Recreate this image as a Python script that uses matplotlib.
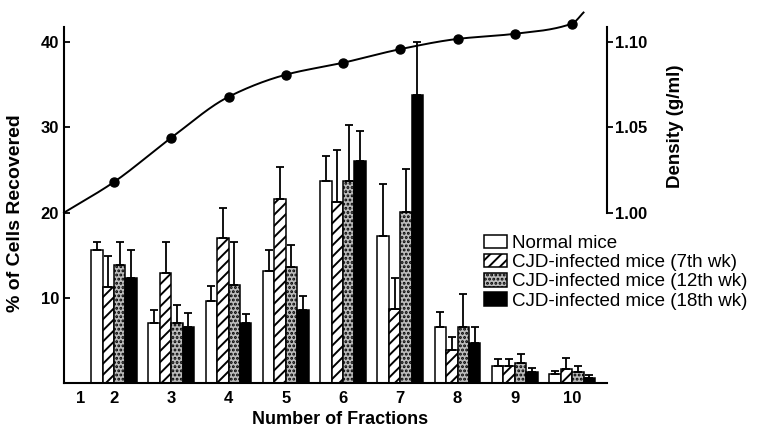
import numpy as np
import matplotlib
matplotlib.use("Agg")
import matplotlib.pyplot as plt
from matplotlib.patches import Patch

plt.rcParams['font.family'] = ['Liberation Sans', 'DejaVu Sans']
plt.rcParams['hatch.linewidth'] = 1.4

# ---------------- data ----------------
fractions = [2, 3, 4, 5, 6, 7, 8, 9, 10]
tick_labels = ['1', '2', '3', '4', '5', '6', '7', '8', '9', '10']
series_names = ['Normal mice',
                'CJD-infected mice (7th wk)',
                'CJD-infected mice (12th wk)',
                'CJD-infected mice (18th wk)']

normal_mean = [15.6, 7.1, 9.6, 13.2, 23.7, 17.3, 6.6, 2.0, 1.0]
normal_sd = [0.9, 1.5, 1.8, 2.4, 3.0, 6.1, 1.7, 0.8, 0.4]
wk7_mean = [11.3, 12.9, 17.0, 21.6, 21.3, 8.7, 3.9, 2.0, 1.6]
wk7_sd = [3.6, 3.6, 3.5, 3.8, 6.0, 3.6, 1.5, 0.8, 1.3]
wk12_mean = [13.9, 7.1, 11.5, 13.6, 23.7, 20.1, 6.6, 2.3, 1.3]
wk12_sd = [2.6, 2.1, 5.0, 2.6, 6.6, 5.0, 3.9, 1.1, 0.7]
wk18_mean = [12.3, 6.6, 7.0, 8.6, 26.1, 33.8, 4.7, 1.3, 0.6]
wk18_sd = [3.3, 1.6, 1.1, 1.6, 3.5, 6.2, 1.9, 0.5, 0.3]

density_fraction = [2, 3, 4, 5, 6, 7, 8, 9, 10]
density = [1.018, 1.044, 1.068, 1.081, 1.088, 1.096, 1.102, 1.105, 1.111]
curve_start_density = 1.000   # density where the curve meets the left axis
curve_end = (10.2, 1.1175)    # where the drawn curve ends

# ---------------- layout ----------------
tick_positions = [1.41, 2, 3, 4, 5, 6, 7, 8, 9, 10]
xlim = (1.127, 10.61)
ylim = (0, 41.8)


def to_density(p):
    return 1.0 + (p - 20.0) / 200.0


offsets = [-0.3, -0.1, 0.1, 0.3]
width = 0.2


def pchip(xk, yk, xs):
    xk = np.asarray(xk, float); yk = np.asarray(yk, float)
    h = np.diff(xk); delta = np.diff(yk) / h
    n = len(xk)
    m = np.zeros(n)
    for i in range(1, n - 1):
        if delta[i - 1] * delta[i] > 0:
            w1 = 2 * h[i] + h[i - 1]
            w2 = h[i] + 2 * h[i - 1]
            m[i] = (w1 + w2) / (w1 / delta[i - 1] + w2 / delta[i])
    m[0] = delta[0]
    m[-1] = delta[-1]
    idx = np.clip(np.searchsorted(xk, xs) - 1, 0, n - 2)
    t = (xs - xk[idx]) / h[idx]
    h00 = 2 * t ** 3 - 3 * t ** 2 + 1
    h10 = t ** 3 - 2 * t ** 2 + t
    h01 = -2 * t ** 3 + 3 * t ** 2
    h11 = t ** 3 - t ** 2
    return (h00 * yk[idx] + h10 * h[idx] * m[idx] + h01 * yk[idx + 1]
            + h11 * h[idx] * m[idx + 1])


fig = plt.figure(figsize=(7.74, 4.32), dpi=100)
ax = fig.add_axes([64 / 774, 49 / 432, 543 / 774, 356 / 432])
ax.set_xlim(*xlim)
ax.set_ylim(*ylim)

x = np.array(fractions, float)
means = [normal_mean, wk7_mean, wk12_mean, wk18_mean]
sds = [normal_sd, wk7_sd, wk12_sd, wk18_sd]
styles = [dict(facecolor='white', hatch=None),
          dict(facecolor='white', hatch='///'),
          dict(facecolor='#bcbcbc', hatch='....'),
          dict(facecolor='black', hatch=None)]

for k in range(4):
    xs = x + offsets[k]
    ax.bar(xs, means[k], width=width, edgecolor='black', linewidth=1.1,
           zorder=2, **styles[k])
    ax.errorbar(xs, means[k], yerr=[np.zeros(len(xs)), sds[k]], fmt='none',
                ecolor='black', elinewidth=1.3, capsize=2.9, capthick=1.3,
                zorder=3)

ax.set_xticks(tick_positions)
ax.set_xticklabels(tick_labels, fontweight='bold')
ax.set_yticks([10, 20, 30, 40])
ax.set_yticklabels(['10', '20', '30', '40'], fontweight='bold')
ax.tick_params(axis='y', direction='in', length=4, width=1.3, pad=3.5,
               labelsize=12)
ax.tick_params(axis='x', length=0, pad=6, labelsize=12)
for s in ['top', 'right']:
    ax.spines[s].set_visible(False)
for s in ['left', 'bottom']:
    ax.spines[s].set_linewidth(1.5)

ax.set_xlabel('Number of Fractions', fontsize=13, fontweight='bold')
ax.xaxis.set_label_coords(0.508, -0.079)
ax.set_ylabel('% of Cells Recovered', fontsize=14, fontweight='bold')
ax.yaxis.set_label_coords(-0.074, 0.478)

# density axis
ax2 = ax.twinx()
ax2.set_ylim(to_density(ylim[0]), to_density(ylim[1]))
ax2.set_yticks([1.00, 1.05, 1.10])
ax2.set_yticklabels(['1.00', '1.05', '1.10'], fontweight='bold')
ax2.tick_params(axis='y', direction='out', length=4, width=1.3, pad=2,
                labelsize=12)
for s in ['left', 'top', 'bottom']:
    ax2.spines[s].set_visible(False)
ax2.spines['right'].set_linewidth(1.5)
ax2.spines['right'].set_bounds(1.00, to_density(ylim[1]))
ax2.set_ylabel('Density (g/ml)', fontsize=13.5, fontweight='bold')
ax2.yaxis.set_label_coords(1.1105, 0.722)

kx = [xlim[0]] + density_fraction + [curve_end[0]]
ky = [curve_start_density] + density + [curve_end[1]]
xs_line = np.linspace(kx[0], kx[-1], 400)
ax2.plot(xs_line, pchip(kx, ky, xs_line), color='black', lw=1.4,
         clip_on=False, zorder=4)
ax2.plot(density_fraction, density, 'o', color='black', markersize=6.5,
         clip_on=False, zorder=5)

handles = [Patch(edgecolor='black', linewidth=1.1, **styles[k])
           for k in range(4)]
ax2.legend(handles, series_names, loc='upper left',
           bbox_to_anchor=(484 / 774, 1 - 235 / 432),
           bbox_transform=fig.transFigure, frameon=False, fontsize=13.5,
           handlelength=1.2, handleheight=0.72, handletextpad=0.3,
           labelspacing=0.1, borderpad=0, borderaxespad=0)

fig.savefig('out.png', dpi=100, facecolor='white')
